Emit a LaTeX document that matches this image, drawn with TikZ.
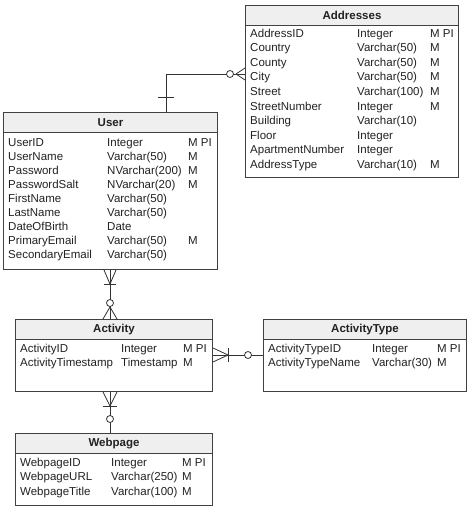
\documentclass[tikz,border=0pt]{standalone}
\usepackage{fontspec}
\setmainfont{Liberation Sans}
\definecolor{boxc}{HTML}{404040}
\definecolor{hdrc}{HTML}{EFEFEF}
\definecolor{txtc}{HTML}{222222}
\definecolor{linec}{HTML}{333333}
\newcommand{\erow}[8]{%
  \node[rt] (#1a) at (#3,#2) {#6};
  \node[rt] (#1b) at (#4,#2) {#7};
  \node[rt] (#1c) at (#5,#2) {#8};}
\begin{document}
\begin{tikzpicture}[x=1pt,y=-1pt,
  tbox/.style={draw=boxc,line width=1pt,fill=white,anchor=north west,inner sep=0pt},
  thead/.style={draw=boxc,line width=1pt,fill=hdrc,anchor=north west,inner sep=0pt,minimum height=20pt,
     font=\fontsize{11.5}{13}\selectfont\bfseries,text=txtc},
  rt/.style={anchor=base west,inner sep=0pt,font=\fontsize{11.5}{13}\selectfont,text=txtc},
  conn/.style={draw=linec,line width=0.8pt},
  circ/.style={draw=linec,line width=0.8pt,fill=white}]
\useasboundingbox (0,0) rectangle (474,511);

% ---------- Addresses ----------
\node[tbox,minimum width=213pt,minimum height=172pt] (addr) at (245,5) {};
\node[thead,minimum width=213pt] (addrh) at (245,5) {Addresses};
\erow{ad1}{37.5}{250}{357}{430}{AddressID}{Integer}{M PI}
\erow{ad2}{52}{250}{357}{430}{Country}{Varchar(50)}{M}
\erow{ad3}{66.5}{250}{357}{430}{County}{Varchar(50)}{M}
\erow{ad4}{81}{250}{357}{430}{City}{Varchar(50)}{M}
\erow{ad5}{95.5}{250}{357}{430}{Street}{Varchar(100)}{M}
\erow{ad6}{110}{250}{357}{430}{StreetNumber}{Integer}{M}
\erow{ad7}{124.5}{250}{357}{430}{Building}{Varchar(10)}{}
\erow{ad8}{139}{250}{357}{430}{Floor}{Integer}{}
\erow{ad9}{153.5}{250}{357}{430}{ApartmentNumber}{Integer}{}
\erow{ad10}{168}{250}{357}{430}{AddressType}{Varchar(10)}{M}

% ---------- User ----------
\node[tbox,minimum width=214pt,minimum height=157pt] (user) at (3,112) {};
\node[thead,minimum width=214pt] (userh) at (3,112) {User};
\erow{us1}{146}{8}{107}{188}{UserID}{Integer}{M PI}
\erow{us2}{160.1}{8}{107}{188}{UserName}{Varchar(50)}{M}
\erow{us3}{174.2}{8}{107}{188}{Password}{NVarchar(200)}{M}
\erow{us4}{188.3}{8}{107}{188}{PasswordSalt}{NVarchar(20)}{M}
\erow{us5}{202.4}{8}{107}{188}{FirstName}{Varchar(50)}{}
\erow{us6}{216.5}{8}{107}{188}{LastName}{Varchar(50)}{}
\erow{us7}{230.6}{8}{107}{188}{DateOfBirth}{Date}{}
\erow{us8}{244.7}{8}{107}{188}{PrimaryEmail}{Varchar(50)}{M}
\erow{us9}{258.8}{8}{107}{188}{SecondaryEmail}{Varchar(50)}{}

% ---------- Activity ----------
\node[tbox,minimum width=197pt,minimum height=72pt] (act) at (15,319) {};
\node[thead,minimum width=197pt] (acth) at (15,319) {Activity};
\erow{ac1}{352}{20}{121}{183}{ActivityID}{Integer}{M PI}
\erow{ac2}{366.5}{20}{121}{183}{ActivityTimestamp}{Timestamp}{M}

% ---------- ActivityType ----------
\node[tbox,minimum width=203pt,minimum height=72pt] (atype) at (263,319) {};
\node[thead,minimum width=203pt] (atypeh) at (263,319) {ActivityType};
\erow{at1}{352}{268}{372}{437}{ActivityTypeID}{Integer}{M PI}
\erow{at2}{366.5}{268}{372}{437}{ActivityTypeName}{Varchar(30)}{M}

% ---------- Webpage ----------
\node[tbox,minimum width=197pt,minimum height=72pt] (web) at (15,433) {};
\node[thead,minimum width=197pt] (webh) at (15,433) {Webpage};
\erow{wb1}{466}{20}{111}{182}{WebpageID}{Integer}{M PI}
\erow{wb2}{480.5}{20}{111}{182}{WebpageURL}{Varchar(250)}{M}
\erow{wb3}{495}{20}{111}{182}{WebpageTitle}{Varchar(100)}{M}

% ---------- User -- Addresses ----------
\coordinate (kUA) at (166,74);
\draw[conn] (userh.north -| kUA) |- (addr.west |- kUA);
\draw[conn] ([xshift=-8pt,yshift=15pt]userh.north -| kUA) -- ([xshift=8pt,yshift=15pt]userh.north -| kUA);
\draw[conn] ([xshift=-9pt]addr.west |- kUA) -- ([yshift=-6pt]addr.west |- kUA);
\draw[conn] ([xshift=-9pt]addr.west |- kUA) -- ([yshift=6pt]addr.west |- kUA);
\draw[circ] ([xshift=-15pt]addr.west |- kUA) circle (3.5pt);

% ---------- User -- Activity ----------
\coordinate (kUAc) at (110,290);
\draw[conn] (user.south -| kUAc) -- (acth.north -| kUAc);
\draw[conn] ([yshift=-14pt]user.south -| kUAc) -- ([xshift=-6pt]user.south -| kUAc);
\draw[conn] ([yshift=-14pt]user.south -| kUAc) -- ([xshift=6pt]user.south -| kUAc);
\draw[conn] ([xshift=-6pt,yshift=-14pt]user.south -| kUAc) -- ([xshift=6pt,yshift=-14pt]user.south -| kUAc);
\draw[conn] ([yshift=12pt]acth.north -| kUAc) -- ([xshift=-7pt]acth.north -| kUAc);
\draw[conn] ([yshift=12pt]acth.north -| kUAc) -- ([xshift=7pt]acth.north -| kUAc);
\draw[circ] ([yshift=16pt]acth.north -| kUAc) circle (3.5pt);

% ---------- Activity -- Webpage ----------
\coordinate (kAW) at (110,412);
\draw[conn] (act.south -| kAW) -- (webh.north -| kAW);
\draw[conn] ([yshift=-14pt]act.south -| kAW) -- ([xshift=-7pt]act.south -| kAW);
\draw[conn] ([yshift=-14pt]act.south -| kAW) -- ([xshift=7pt]act.south -| kAW);
\draw[conn] ([xshift=-7pt,yshift=-14pt]act.south -| kAW) -- ([xshift=7pt,yshift=-14pt]act.south -| kAW);
\draw[circ] ([yshift=14pt]webh.north -| kAW) circle (3.5pt);

% ---------- Activity -- ActivityType ----------
\coordinate (kAT) at (240,355);
\draw[conn] (act.east |- kAT) -- (atype.west |- kAT);
\draw[conn] ([xshift=15pt]act.east |- kAT) -- ([yshift=7pt]act.east |- kAT);
\draw[conn] ([xshift=15pt]act.east |- kAT) -- ([yshift=-7pt]act.east |- kAT);
\draw[conn] ([xshift=15pt,yshift=7pt]act.east |- kAT) -- ([xshift=15pt,yshift=-7pt]act.east |- kAT);
\draw[circ] ([xshift=-15pt]atype.west |- kAT) circle (3.5pt);
\end{tikzpicture}
\end{document}
